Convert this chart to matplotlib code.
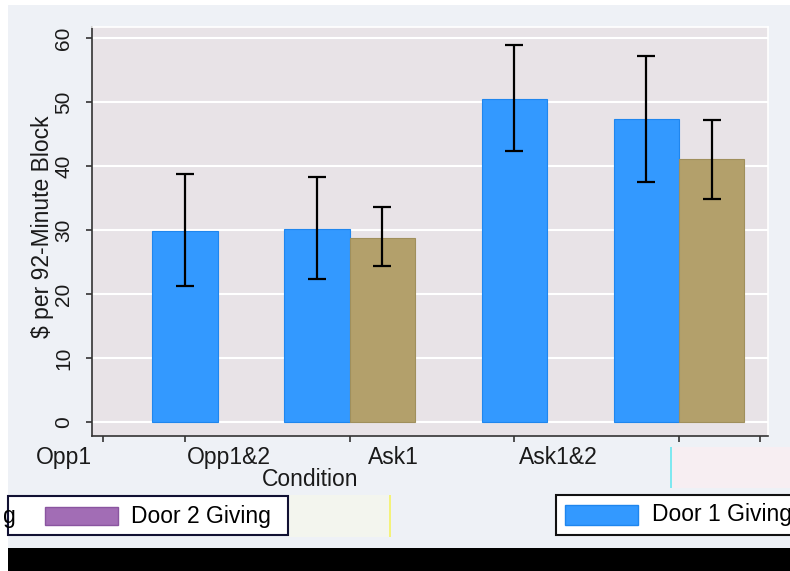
import numpy as np
import matplotlib.pyplot as plt
from matplotlib.patches import Rectangle
from matplotlib.transforms import blended_transform_factory

plt.rcParams['font.family'] = ['Liberation Sans', 'DejaVu Sans']

conditions = ['Opp1', 'Opp1&2', 'Ask1', 'Ask1&2']
door1_mean = [29.9, 30.1, 50.4, 47.3]
door1_lo = [21.3, 22.3, 42.3, 37.5]
door1_hi = [38.7, 38.2, 58.9, 57.2]
door2_mean = [np.nan, 28.8, np.nan, 41.0]
door2_lo = [np.nan, 24.4, np.nan, 34.8]
door2_hi = [np.nan, 33.5, np.nan, 47.1]

W, H = 790, 571
fig = plt.figure(figsize=(W / 100, H / 100), dpi=100, facecolor='white')

def fx(px):
    return px / W

def fy(py):
    return 1 - py / H

def frect(x0, y0, x1, y1, **kw):
    r = Rectangle((fx(x0), fy(y1)), fx(x1 - x0), (y1 - y0) / H,
                  transform=fig.transFigure, **kw)
    fig.add_artist(r)
    return r

# background panels
frect(8, 5, 790, 548, facecolor='#eef1f6', edgecolor='none', zorder=0)
frect(8, 548, 790, 571, facecolor='black', edgecolor='none', zorder=0)

ax = fig.add_axes([fx(92), fy(436), fx(768 - 92), (436 - 27) / H])
ax.set_facecolor('#e8e3e7')

blue, tan = '#3399ff', '#b3a06b'
centers = np.arange(len(conditions)) * 2.52
door2_has = ~np.isnan(door2_mean)
x1 = np.where(door2_has, centers - 0.5, centers)
x2 = centers + 0.5

ax.bar(x1, door1_mean, width=1.0, color=blue, edgecolor='#1f86ee', linewidth=0.8, zorder=2)
ax.bar(x2[door2_has], np.array(door2_mean)[door2_has], width=1.0, color=tan,
       edgecolor='#a08f5c', linewidth=0.8, zorder=2)

m1 = np.array(door1_mean)
ax.errorbar(x1, m1, yerr=[m1 - np.array(door1_lo), np.array(door1_hi) - m1],
            fmt='none', ecolor='black', elinewidth=1.6, capsize=6.5, capthick=1.6, zorder=3)
m2 = np.array(door2_mean)[door2_has]
ax.errorbar(x2[door2_has], m2,
            yerr=[m2 - np.array(door2_lo)[door2_has], np.array(door2_hi)[door2_has] - m2],
            fmt='none', ecolor='black', elinewidth=1.6, capsize=6.5, capthick=1.6, zorder=3)

ax.set_xlim(-1.42, 8.92)
ax.set_ylim(-2.2, 61.7)
ax.set_yticks(range(0, 61, 10))
ax.grid(axis='y', color='white', linewidth=1.5, zorder=1)
ax.set_axisbelow(True)

ticks = np.concatenate([[-1.25], centers, [8.8]])
ax.set_xticks(ticks)
ax.set_xticklabels([])

for s in ['top', 'right']:
    ax.spines[s].set_color('white')
    ax.spines[s].set_linewidth(1.2)
for s in ['left', 'bottom']:
    ax.spines[s].set_color('#333333')
    ax.spines[s].set_linewidth(1.2)

ax.tick_params(axis='y', length=4.5, width=1.2, color='#333333', labelsize=15,
               labelrotation=90, pad=9, labelcolor='#1a1a1a')
ax.tick_params(axis='x', length=4.5, width=1.2, color='#333333')
for lab in ax.get_yticklabels():
    lab.set_va('center')

trans = blended_transform_factory(ax.transData, ax.transAxes)
for c, name in zip(centers, conditions):
    ax.text(c - 1.85, -0.052, name, transform=trans, ha='center', va='center',
            fontsize=16.5, color='#1a1a1a', clip_on=False)

fig.text(fx(310), fy(479), 'Condition', ha='center', va='center', fontsize=16.5, color='#1a1a1a')
fig.text(fx(43), fy(227), '$ per 92-Minute Block', ha='center', va='center',
         rotation=90, fontsize=16.5, color='#1a1a1a')

# artifact areas
frect(288, 495, 390, 537, facecolor='#f3f5ee', edgecolor='none', zorder=1)
frect(389, 495, 391, 537, facecolor='#f4f27a', edgecolor='none', zorder=1)
frect(671, 447, 790, 488, facecolor='#f7eef2', edgecolor='none', zorder=1)
frect(670, 447, 672, 488, facecolor='#7fe8f0', edgecolor='none', zorder=1)

# legend boxes
left_box = frect(8, 496, 288, 535, facecolor='white', edgecolor='#111133', linewidth=1.5, zorder=2)
frect(45, 507, 118, 525, facecolor='#a26db5', edgecolor='#8a55a0', linewidth=1, zorder=3)
fig.text(fx(131), fy(516), 'Door 2 Giving', ha='left', va='center', fontsize=16.5, color='black', zorder=3)
fig.text(fx(3), fy(516), 'g', ha='left', va='center', fontsize=16.5, color='black', zorder=3)

right_box = frect(556, 495, 792, 535, facecolor='white', edgecolor='#111111', linewidth=1.5, zorder=2)
frect(565, 505, 638, 525, facecolor=blue, edgecolor='#1f86ee', linewidth=1, zorder=3)
t = fig.text(fx(652), fy(515), 'Door 1 Giving', ha='left', va='center', fontsize=16.5, color='black', zorder=3)
t.set_clip_path(right_box)

fig.savefig('out.png', dpi=100, facecolor='white')
